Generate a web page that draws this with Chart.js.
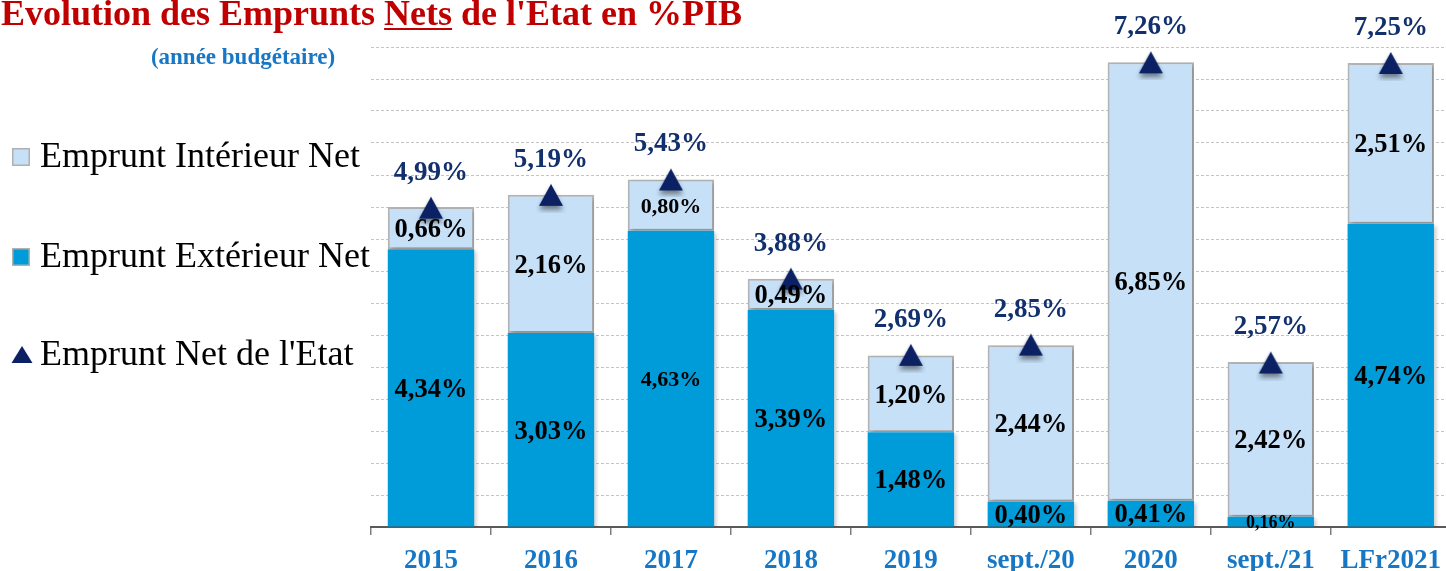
<!DOCTYPE html>
<html><head><meta charset="utf-8">
<script src="https://cdn.jsdelivr.net/npm/chart.js@4.4.1/dist/chart.umd.min.js"></script>
<style>html,body{margin:0;padding:0;background:#fff;overflow:hidden;width:1446px;height:571px}canvas{display:block}</style>
</head><body>
<canvas id="c" width="1451" height="571"></canvas>
<script>
// ---- data ----
const categories = ['2015','2016','2017','2018','2019','sept./20','2020','sept./21','LFr2021'];
const exterieur = [4.34, 3.03, 4.63, 3.39, 1.48, 0.40, 0.41, 0.16, 4.74];
const interieur = [0.66, 2.16, 0.80, 0.49, 1.20, 2.44, 6.85, 2.42, 2.51];
const totalNet  = [4.99, 5.19, 5.43, 3.88, 2.69, 2.85, 7.26, 2.57, 7.25];
const yMax = 7.5;
const yStep = 0.5;
const titleText = "Evolution des Emprunts Nets de l'Etat en %PIB";
const subtitleText = "(année budgétaire)";
const seriesNames = ['Emprunt Extérieur Net', 'Emprunt Intérieur Net', "Emprunt Net de l'Etat"];

// ---- styles ----
const SERIF = '"Liberation Serif", "Times New Roman", serif';
const C_EXT = '#009BD9', C_INT = '#C6E0F8', C_NAVY = '#0B2163', C_LBL = '#13306E', C_BLUE = '#1777C5', C_RED = '#C00000';
const extLabelSize = [26.5, 26.5, 22, 26.5, 26.5, 26.5, 26.5, 18, 26.5];
const intLabelSize = [26.5, 26.5, 22, 26.5, 26.5, 26.5, 26.5, 26.5, 26.5];

function makeTriangle(w, h, shadow) {
  const c = document.createElement('canvas');
  c.width = w + 12; c.height = h + 14;
  const g = c.getContext('2d');
  if (shadow) { g.shadowColor = 'rgba(0,0,0,0.45)'; g.shadowBlur = 5; g.shadowOffsetY = 4; }
  const cx = c.width / 2, cy = c.height / 2;
  g.beginPath(); g.moveTo(cx, cy - h / 2); g.lineTo(cx + w / 2, cy + h / 2); g.lineTo(cx - w / 2, cy + h / 2); g.closePath();
  g.fillStyle = C_NAVY; g.fill();
  return c;
}
const triImg = makeTriangle(24, 22, true);

const fmt = v => v.toFixed(2).replace('.', ',') + '%';

const shadowPlugin = {
  id: 'barShadow',
  beforeDatasetDraw(chart, args) {
    if (chart.data.datasets[args.index].type === 'line') return;
    const ctx = chart.ctx; ctx.save();
    ctx.shadowColor = 'rgba(0,0,0,0.22)'; ctx.shadowBlur = 4; ctx.shadowOffsetX = 2; ctx.shadowOffsetY = 2;
  },
  afterDatasetDraw(chart, args) {
    if (chart.data.datasets[args.index].type === 'line') return;
    chart.ctx.restore();
  }
};

const labelPlugin = {
  id: 'valueLabels',
  afterDatasetsDraw(chart) {
    const ctx = chart.ctx; ctx.save();
    ctx.textAlign = 'center'; ctx.textBaseline = 'middle';
    [0, 1].forEach(di => {
      const meta = chart.getDatasetMeta(di);
      const vals = chart.data.datasets[di].data;
      const sizes = di === 0 ? extLabelSize : intLabelSize;
      meta.data.forEach((bar, i) => {
        const p = bar.getProps(['x', 'y', 'base'], true);
        ctx.font = `bold ${sizes[i]}px ${SERIF}`;
        ctx.fillStyle = '#000';
        ctx.fillText(fmt(vals[i]), p.x, (p.y + p.base) / 2 + 2);
      });
    });
    const lm = chart.getDatasetMeta(2);
    lm.data.forEach((pt, i) => {
      const p = pt.getProps(['x', 'y'], true);
      ctx.font = `bold 27px ${SERIF}`; ctx.fillStyle = C_LBL;
      ctx.fillText(fmt(chart.data.datasets[2].data[i]), p.x, p.y - 35);
    });
    ctx.restore();
  }
};

const decorPlugin = {
  id: 'decor',
  afterDraw(chart) {
    const ctx = chart.ctx; ctx.save();
    // title
    ctx.font = `bold 36px ${SERIF}`; ctx.fillStyle = C_RED; ctx.textAlign = 'left'; ctx.textBaseline = 'alphabetic';
    ctx.fillText(titleText, 1, 25);
    const pre = titleText.slice(0, titleText.indexOf('Nets'));
    const ux = 1 + ctx.measureText(pre).width, uw = ctx.measureText('Nets').width;
    ctx.fillRect(ux, 28, uw, 2);
    // subtitle
    ctx.font = `bold 23px ${SERIF}`; ctx.fillStyle = C_BLUE; ctx.textAlign = 'center'; ctx.textBaseline = 'middle';
    ctx.fillText(subtitleText, 243, 58);
    // legend
    const items = [
      { name: chart.data.datasets[1].label, kind: 'box', fill: C_INT, base: 167 },
      { name: chart.data.datasets[0].label, kind: 'box', fill: C_EXT, base: 267 },
      { name: chart.data.datasets[2].label, kind: 'tri', base: 365 }
    ];
    ctx.textAlign = 'left'; ctx.textBaseline = 'alphabetic';
    items.forEach(it => {
      if (it.kind === 'box') {
        ctx.fillStyle = it.fill; ctx.fillRect(12, it.base - 19, 18, 18);
        ctx.strokeStyle = '#B0B0B0'; ctx.lineWidth = 1.5; ctx.strokeRect(12.75, it.base - 18.25, 16.5, 16.5);
      } else {
        ctx.fillStyle = C_NAVY; ctx.beginPath();
        ctx.moveTo(22, it.base - 19); ctx.lineTo(32.5, it.base - 2); ctx.lineTo(11.5, it.base - 2); ctx.closePath(); ctx.fill();
      }
      ctx.font = `36px ${SERIF}`; ctx.fillStyle = '#000';
      ctx.fillText(it.name, 40, it.base);
    });
    ctx.restore();
  }
};

new Chart(document.getElementById('c'), {
  data: {
    labels: categories,
    datasets: [
      { type: 'bar', label: seriesNames[0], data: exterieur, backgroundColor: C_EXT, borderWidth: 0, order: 1, stack: 'bars' },
      { type: 'bar', label: seriesNames[1], data: interieur, backgroundColor: C_INT, borderColor: '#B4B4B4', borderWidth: 2, borderSkipped: false, order: 1, stack: 'bars' },
      { type: 'line', label: seriesNames[2], data: totalNet, showLine: false, pointStyle: triImg, pointRadius: 13, pointHoverRadius: 13, backgroundColor: C_NAVY, borderColor: C_NAVY, order: 0, stack: 'total' }
    ]
  },
  options: {
    responsive: false,
    animation: false,
    devicePixelRatio: 1,
    layout: { autoPadding: false, padding: { left: 371, top: 47, right: 0, bottom: 0 } },
    datasets: { bar: { barPercentage: 0.72, categoryPercentage: 1 } },
    plugins: { legend: { display: false }, tooltip: { enabled: false }, title: { display: false } },
    scales: {
      x: {
        stacked: true,
        z: 1,
        afterFit: s => { s.height = 44; },
        grid: { display: true, drawOnChartArea: false, drawTicks: true, tickLength: 8, color: '#7F7F7F', lineWidth: 1.5, offset: true },
        border: { display: true, color: '#5A5A5A', width: 2 },
        ticks: { color: C_BLUE, font: { family: SERIF, size: 27, weight: 'bold' }, padding: 10, maxRotation: 0, autoSkip: false }
      },
      y: {
        stacked: true,
        min: 0, max: yMax,
        afterFit: s => { s.width = 0; },
        ticks: { display: false, stepSize: yStep },
        grid: { drawTicks: false, color: c => (c.tick && c.tick.value === 0) ? 'rgba(0,0,0,0)' : '#C4C4C4', lineWidth: 1 },
        border: { display: false, dash: [3, 2] }
      }
    }
  },
  plugins: [shadowPlugin, labelPlugin, decorPlugin]
});
</script>
</body></html>
